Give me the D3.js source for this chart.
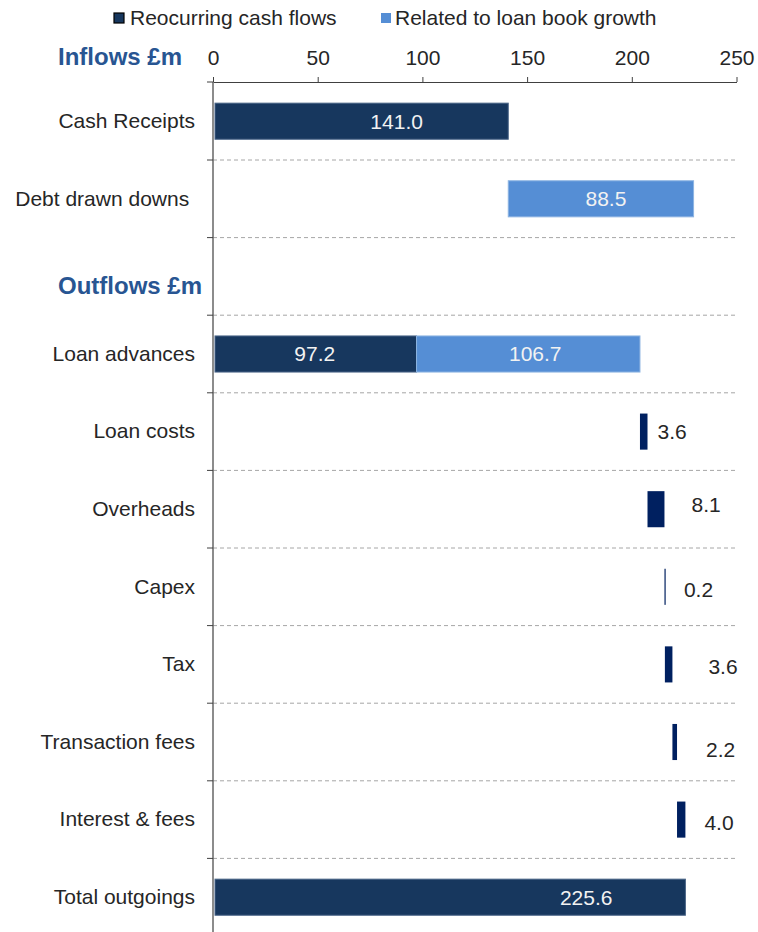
<!DOCTYPE html>
<html>
<head>
<meta charset="utf-8">
<script src="https://cdn.jsdelivr.net/npm/d3@7/dist/d3.min.js"></script>
<style>
  html, body { margin: 0; padding: 0; background: #ffffff; }
  svg { display: block; font-family: "Liberation Sans", Arial, sans-serif; }
  .cat { white-space: pre; }
</style>
</head>
<body>
<svg id="chart" width="758" height="932"></svg>
<script>
// Cash flow bridge (£m)
const categories = [
  "Cash Receipts", "Debt drawn downs ", "Outflows £m", "Loan advances",
  "Loan costs", "Overheads", "Capex", "Tax", "Transaction fees",
  "Interest & fees", "Total outgoings"
];
const recurring  = [141.0, null, null, 97.2, 3.6, 8.1, 0.2, 3.6, 2.2, 4.0, 225.6];
const loanGrowth = [null, 88.5, null, 106.7, null, null, null, null, null, null, null];
// bars that float on the running total of the rows above
const floating   = [false, true, false, false, true, true, true, true, true, true, false];
const sectionTitles = ["Inflows £m", "Outflows £m"];
const seriesNames = ["Reocurring cash flows", "Related to loan book growth"];
const xTicks = [0, 50, 100, 150, 200, 250];

// hand placement of value labels: [dx, dy]
// inside labels are offset from the bar centre, outside ones from the bar end
const insideLabelNudge = {
  "Cash Receipts|r": [36, 0], "Debt drawn downs |l": [5, 0],
  "Loan advances|r": [0, 0], "Loan advances|l": [7, 0], "Total outgoings|r": [137, 0]
};
const outsideLabelNudge = {
  "Loan costs": [10, 0], "Overheads": [27, -5], "Capex": [19, 3],
  "Tax": [36, 2], "Transaction fees": [29, 8], "Interest & fees": [19, 3]
};

const COL_DARK = "#17375E", COL_LIGHT = "#558ED5", COL_STEP = "#002060";
const TEXT = "#262626", TITLE = "#285592";

const svg = d3.select("#chart");

const x = d3.scaleLinear().domain([0, 250]).range([213, 736.5]);
const step = 77.6;
const y = d3.scaleBand()
  .domain(categories)
  .range([82.4, 82.4 + step * categories.length])
  .paddingInner(0.535)
  .paddingOuter(0.2675);

// build segments with running totals
const segments = [];
let run = 0;
categories.forEach((c, i) => {
  if (c === sectionTitles[1]) { run = 0; return; }
  const base = floating[i] ? run : 0;
  const r = recurring[i] || 0, l = loanGrowth[i] || 0;
  if (r) segments.push({ cat: c, s: "r", x0: base, x1: base + r, v: r,
    fill: floating[i] ? COL_STEP : COL_DARK, stroke: floating[i] ? "none" : "#4a6587" });
  if (l) segments.push({ cat: c, s: "l", x0: base + r, x1: base + r + l, v: l,
    fill: COL_LIGHT, stroke: "#8db4e2" });
  run = base + r + l;
});

// dashed separators between rows
const bounds = categories.slice(1).map(c => y(c) - (y.step() - y.bandwidth()) / 2);
svg.append("g").selectAll("line").data(bounds).join("line")
  .attr("x1", x(0)).attr("x2", 737)
  .attr("y1", d => d).attr("y2", d => d)
  .attr("stroke", "#a6a6a6").attr("stroke-width", 1)
  .attr("stroke-dasharray", "4,3");

// bars
const fmt = d3.format(".1f");
svg.append("g").selectAll("rect").data(segments).join("rect")
  .attr("x", d => x(d.x0) + (d.x0 === 0 ? 2 : 0))
  .attr("width", d => Math.max(1.2, x(d.x1) - x(d.x0) - (d.x0 === 0 ? 2 : 0)))
  .attr("y", d => y(d.cat))
  .attr("height", y.bandwidth())
  .attr("fill", d => d.fill)
  .attr("stroke", d => d.stroke)
  .attr("stroke-width", 1);

// value labels
svg.append("g").selectAll("text").data(segments).join("text")
  .each(function (d) {
    const t = d3.select(this);
    const cy = y(d.cat) + y.bandwidth() / 2;
    const out = outsideLabelNudge[d.cat];
    if (out) {
      t.attr("x", x(d.x1) + out[0]).attr("y", cy + out[1])
        .attr("text-anchor", "start").attr("fill", TEXT);
    } else {
      const n = insideLabelNudge[d.cat + "|" + d.s] || [0, 0];
      t.attr("x", (x(d.x0) + x(d.x1)) / 2 + n[0]).attr("y", cy + n[1])
        .attr("text-anchor", "middle").attr("fill", "#f2f2f2");
    }
  })
  .attr("dy", "0.35em")
  .attr("font-size", 21)
  .text(d => fmt(d.v));

// category labels
svg.append("g").selectAll("text")
  .data(categories.filter(c => !sectionTitles.includes(c)))
  .join("text")
  .attr("class", "cat")
  .attr("x", 195)
  .attr("y", c => y(c) + y.bandwidth() / 2 - 0.5)
  .attr("dy", "0.35em")
  .attr("text-anchor", "end")
  .attr("font-size", 21)
  .attr("fill", TEXT)
  .text(c => c);

// section titles
svg.append("text")
  .attr("x", 58).attr("y", 57).attr("dy", "0.35em")
  .attr("font-size", 24).attr("font-weight", "bold").attr("fill", TITLE)
  .text(sectionTitles[0]);
svg.append("text")
  .attr("x", 58).attr("y", y(sectionTitles[1]) + y.bandwidth() / 2 + 9).attr("dy", "0.35em")
  .attr("font-size", 24).attr("font-weight", "bold").attr("fill", TITLE)
  .text(sectionTitles[1]);

// x axis on top
const xAxis = svg.append("g")
  .attr("transform", "translate(0,82)")
  .call(d3.axisTop(x).tickValues(xTicks).tickSize(5).tickSizeOuter(0).tickPadding(12.5));
xAxis.select(".domain").attr("stroke", "#404040");
xAxis.selectAll(".tick line").attr("stroke", "#404040");
xAxis.selectAll(".tick text")
  .attr("font-size", 21).attr("font-family", "Liberation Sans, Arial, sans-serif")
  .attr("fill", TEXT);

// y axis line and row ticks
svg.append("line")
  .attr("x1", x(0)).attr("x2", x(0)).attr("y1", 82).attr("y2", 932)
  .attr("stroke", "#666666").attr("stroke-width", 1.5);
svg.append("g").selectAll("line").data([82, ...bounds]).join("line")
  .attr("x1", x(0) - 6).attr("x2", x(0))
  .attr("y1", d => d).attr("y2", d => d)
  .attr("stroke", "#404040").attr("stroke-width", 1);

// legend
const legend = svg.append("g");
legend.append("rect").attr("x", 114).attr("y", 13).attr("width", 10).attr("height", 10)
  .attr("fill", COL_DARK).attr("stroke", "#000").attr("stroke-width", 1.2);
legend.append("text").attr("x", 130).attr("y", 25).attr("font-size", 21).attr("fill", TEXT)
  .text(seriesNames[0]);
legend.append("rect").attr("x", 381).attr("y", 13).attr("width", 10).attr("height", 10)
  .attr("fill", COL_LIGHT);
legend.append("text").attr("x", 395).attr("y", 25).attr("font-size", 21).attr("fill", TEXT)
  .text(seriesNames[1]);
</script>
</body>
</html>
